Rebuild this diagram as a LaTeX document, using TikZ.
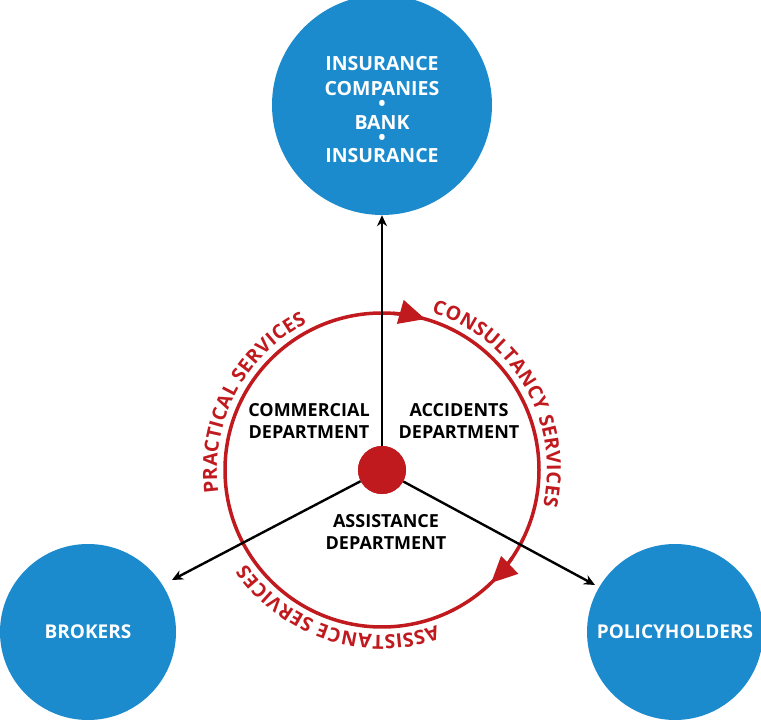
\documentclass[tikz,border=0pt]{standalone}
\usepackage{fontspec}
\setmainfont{Open Sans}
\usetikzlibrary{arrows.meta,decorations.text}
\definecolor{cblue}{HTML}{1B8BCD}
\definecolor{cred}{HTML}{C01A1F}
\begin{document}
\begin{tikzpicture}[x=1pt,y=1pt,
  bigc/.style={circle,fill=cblue,inner sep=0pt},
  wt/.style={text=white,font=\bfseries\fontsize{19.5}{19.5}\selectfont,inner sep=0pt},
  dept/.style={font=\bfseries\fontsize{18}{22}\selectfont,align=center,inner sep=0pt},
  blk/.style={draw=black,line width=2.4,-{Stealth[length=11,width=10]}},
  redarc/.style={draw=cred,line width=3.5},
  curved/.style={decorate,decoration={text along path,text align=center,raise=5pt,
     text={|\bfseries\fontsize{19.5}{19.5}\selectfont\color{cred}|#1}}}]
\useasboundingbox (0,0) rectangle (761,720);
\coordinate (c) at (382,250);
\node[bigc,minimum size=220] (top) at (382,615) {};
\node[bigc,minimum size=176] (brk) at (88,88) {};
\node[bigc,minimum size=176] (pol) at (675,88) {};
\node[wt] (t1) at (382,656) {INSURANCE};
\node[wt] (t2) at (382,631) {COMPANIES};
\node[wt] (d1) at (382,615) {•};
\node[wt] (t3) at (382,597) {BANK};
\node[wt] (d2) at (382,581) {•};
\node[wt] (t4) at (382,564) {INSURANCE};
\node[text=white,font=\bfseries\fontsize{19}{19}\selectfont] (bt) at (brk) {BROKERS};
\node[text=white,font=\bfseries\fontsize{19}{19}\selectfont] (pt) at (pol) {POLICYHOLDERS};
\draw[redarc] (c) circle[radius=157];
\draw[cred,line width=3.5,-{Triangle[length=26,width=24]}] (c) ++(86:157) arc[start angle=86,end angle=74,radius=157];
\draw[cred,line width=3.5,-{Triangle[length=26,width=24]}] (c) ++(-34:157) arc[start angle=-34,end angle=-46,radius=157];
\path[curved={PRACTICAL SERVICES}] (c) ++(195:160) arc[start angle=195,end angle=110,radius=160];
\path[curved={CONSULTANCY SERVICES}] (c) ++(78:160) arc[start angle=78,end angle=-18,radius=160];
\path[curved={ASSISTANCE SERVICES}] (c) ++(-62:160) arc[start angle=-62,end angle=-154,radius=160];
\node[circle,fill=cred,minimum size=48,inner sep=0pt] (dot) at (c) {};
\coordinate (be) at (172,140);
\coordinate (pe) at (595,135);
\draw[blk] (dot.north) -- (top.south);
\draw[blk] (dot) -- (be);
\draw[blk] (dot) -- (pe);
\fill[cred] (c) circle[radius=24];
\node[dept] (cm) at (309,299) {COMMERCIAL\\DEPARTMENT};
\node[dept] (ac) at (459,299) {ACCIDENTS\\DEPARTMENT};
\node[dept] (as) at (386,188) {ASSISTANCE\\DEPARTMENT};
\end{tikzpicture}
\end{document}
